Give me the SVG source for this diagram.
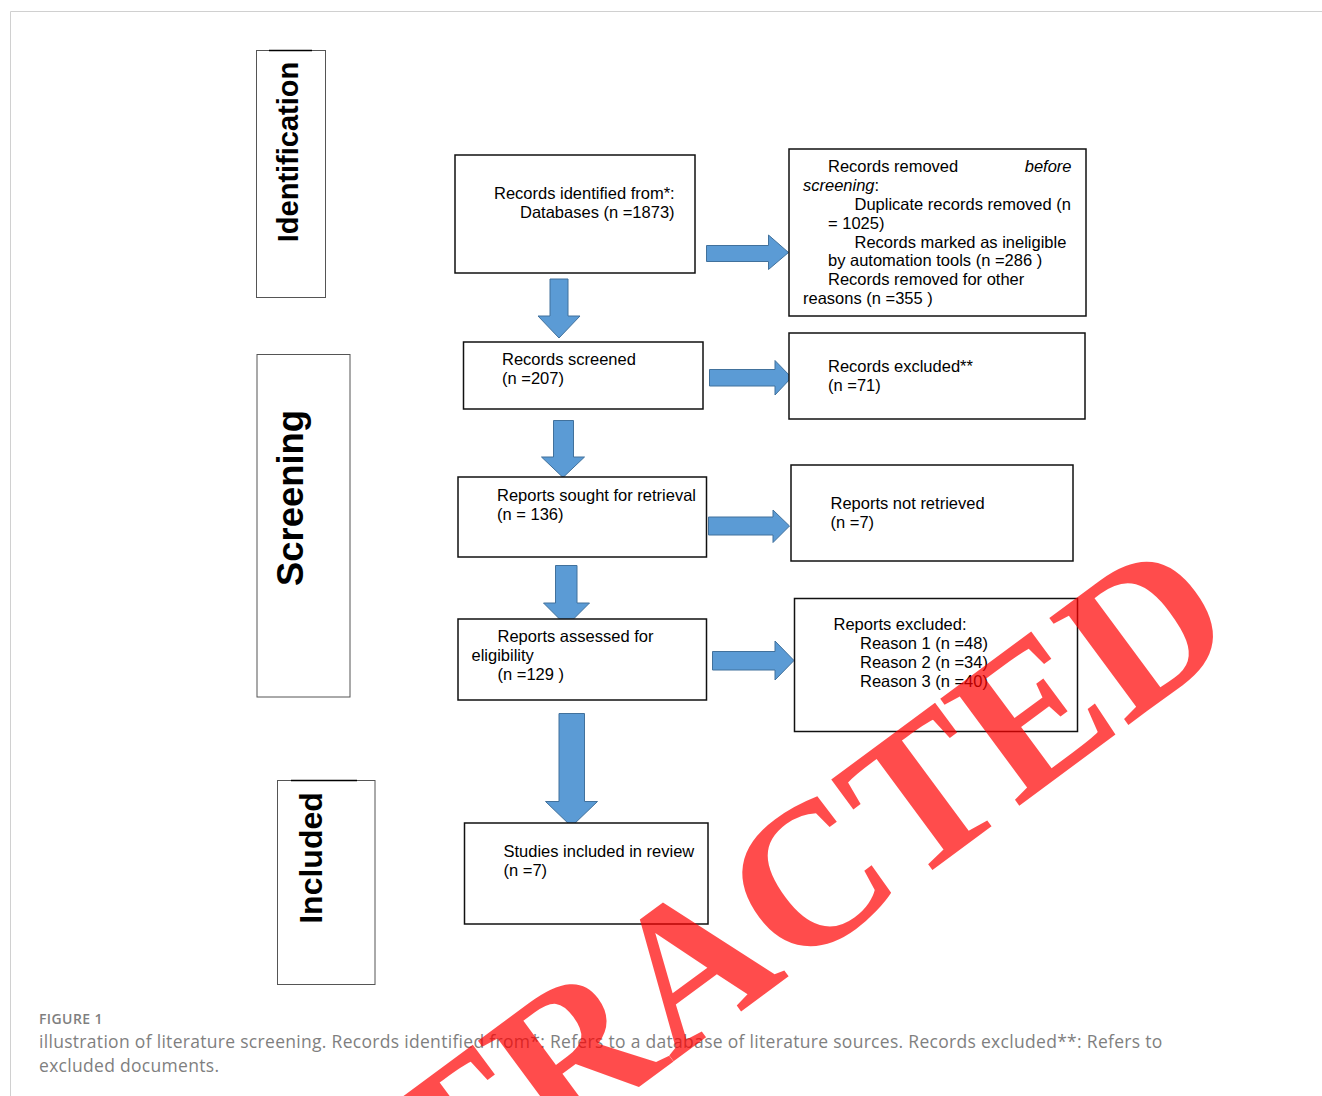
<svg xmlns="http://www.w3.org/2000/svg" width="1322" height="1096" viewBox="0 0 1322 1096">
  <style>
    .frame { fill: none; stroke: #d0d0d0; stroke-width: 1; }
    .stage rect { fill: #ffffff; stroke: #555555; stroke-width: 1; }
    .stage line { stroke: #000000; stroke-width: 1.5; }
    .stage text { font-family: "Liberation Sans", Arial, sans-serif; font-weight: bold; fill: #000000; text-anchor: middle; }
    .box rect { fill: #ffffff; stroke: #111111; stroke-width: 1.5; }
    .box text { font-family: "Liberation Sans", Arial, sans-serif; font-size: 16.5px; fill: #000000; }
    .arrow { fill: #5b9bd5; stroke: #41719c; stroke-width: 1; }
    .cap { font-family: "Open Sans", "Noto Sans", sans-serif; fill: #7f7f7f; }
    .wm { font-family: "Liberation Serif", "Times New Roman", serif; font-weight: bold; font-size: 203px; fill: #ff0000; fill-opacity: 0.7; text-anchor: middle; }
  </style>
  <rect x="0" y="0" width="1322" height="1096" fill="#ffffff"/>
  <path class="frame" d="M10.5,1096 V11.5 H1322"/>

  <g id="stage-identification" class="stage">
    <rect x="256.5" y="50.5" width="69" height="247"/>
    <line x1="269" y1="50.5" x2="312" y2="50.5"/>
    <text font-size="29" transform="translate(297.5,152) rotate(-90)">Identification</text>
  </g>
  <g id="stage-screening" class="stage">
    <rect x="257" y="354.5" width="93" height="342.5"/>
    <text font-size="36.4" transform="translate(303,498) rotate(-90)">Screening</text>
  </g>
  <g id="stage-included" class="stage">
    <rect x="277.5" y="780.5" width="97.5" height="204"/>
    <line x1="291" y1="780.5" x2="357" y2="780.5"/>
    <text font-size="32" transform="translate(321.5,858) rotate(-90)">Included</text>
  </g>

  <g id="connectors">
    <path class="arrow" d="M550,279 H568 V316 H580 L559,338 L538,316 H550 Z"/>
    <path class="arrow" d="M553.5,420.5 H573.5 V457 H584.5 L563,477.5 L541.5,457 H553.5 Z"/>
    <path class="arrow" d="M555.5,565.5 H577 V603 H589.5 L566.5,626 L543.5,603 H555.5 Z"/>
    <path class="arrow" d="M559,713.5 H584.5 V801.5 H597.5 L571.5,826.5 L545.5,801.5 H559 Z"/>
    <path class="arrow" d="M706.5,245.5 H768.5 V235 L788.5,252.5 L768.5,269.5 V261.5 H706.5 Z"/>
    <path class="arrow" d="M709.5,369.5 H775 V360.5 L791.5,377.5 L775,395 V386 H709.5 Z"/>
    <path class="arrow" d="M708.5,517 H773 V510 L789.5,526 L773,542.5 V535 H708.5 Z"/>
    <path class="arrow" d="M712.5,651.5 H775 V641 L794,660.5 L775,680 V670 H712.5 Z"/>
  </g>

  <g id="node-identified" class="box">
    <rect x="455" y="155" width="240" height="118"/>
    <text x="494" y="199">Records identified from*:</text>
    <text x="520" y="218">Databases (n =1873)</text>
  </g>
  <g id="node-removed" class="box">
    <rect x="789" y="149" width="297" height="167"/>
    <text x="828" y="172">Records removed</text>
    <text x="1071.5" y="172" font-style="italic" text-anchor="end">before</text>
    <text x="803" y="191"><tspan font-style="italic">screening</tspan>:</text>
    <text x="854.5" y="210">Duplicate records removed (n</text>
    <text x="828" y="229">= 1025)</text>
    <text x="854.5" y="248">Records marked as ineligible</text>
    <text x="828" y="266">by automation tools (n =286 )</text>
    <text x="828" y="285">Records removed for other</text>
    <text x="803" y="304">reasons (n =355 )</text>
  </g>
  <g id="node-screened" class="box">
    <rect x="463.5" y="342" width="239.5" height="67"/>
    <text x="502" y="365">Records screened</text>
    <text x="502" y="384">(n =207)</text>
  </g>
  <g id="node-excluded" class="box">
    <rect x="789" y="333" width="296" height="86"/>
    <text x="828" y="372">Records excluded**</text>
    <text x="828" y="391">(n =71)</text>
  </g>
  <g id="node-sought" class="box">
    <rect x="458" y="477" width="248.5" height="80"/>
    <text x="497" y="501">Reports sought for retrieval</text>
    <text x="497" y="520">(n = 136)</text>
  </g>
  <g id="node-not-retrieved" class="box">
    <rect x="791" y="465" width="282" height="96"/>
    <text x="830.5" y="509">Reports not retrieved</text>
    <text x="830.5" y="528">(n =7)</text>
  </g>
  <g id="node-assessed" class="box">
    <rect x="458" y="619" width="248.5" height="81"/>
    <text x="497.5" y="642">Reports assessed for</text>
    <text x="471.5" y="661">eligibility</text>
    <text x="497.5" y="680">(n =129 )</text>
  </g>
  <g id="node-reports-excluded" class="box">
    <rect x="794.5" y="598.5" width="283" height="133"/>
    <text x="833.5" y="630">Reports excluded:</text>
    <text x="860" y="649">Reason 1 (n =48)</text>
    <text x="860" y="668">Reason 2 (n =34)</text>
    <text x="860" y="687">Reason 3 (n =40)</text>
  </g>
  <g id="node-included" class="box">
    <rect x="464.5" y="823" width="243.5" height="101"/>
    <text x="503.5" y="857">Studies included in review</text>
    <text x="503.5" y="876">(n =7)</text>
  </g>

  <g id="caption">
    <text class="cap" x="39" y="1024" font-size="14" font-weight="600" letter-spacing="0.4">FIGURE 1</text>
    <text class="cap" x="39" y="1048" font-size="17.5" letter-spacing="0.3">illustration of literature screening. Records identified from*: Refers to a database of literature sources. Records excluded**: Refers to</text>
    <text class="cap" x="39" y="1072" font-size="17.5" letter-spacing="0.3">excluded documents.</text>
  </g>

  <text class="wm" transform="translate(731,1019) rotate(-36.5)">RETRACTED</text>
</svg>
